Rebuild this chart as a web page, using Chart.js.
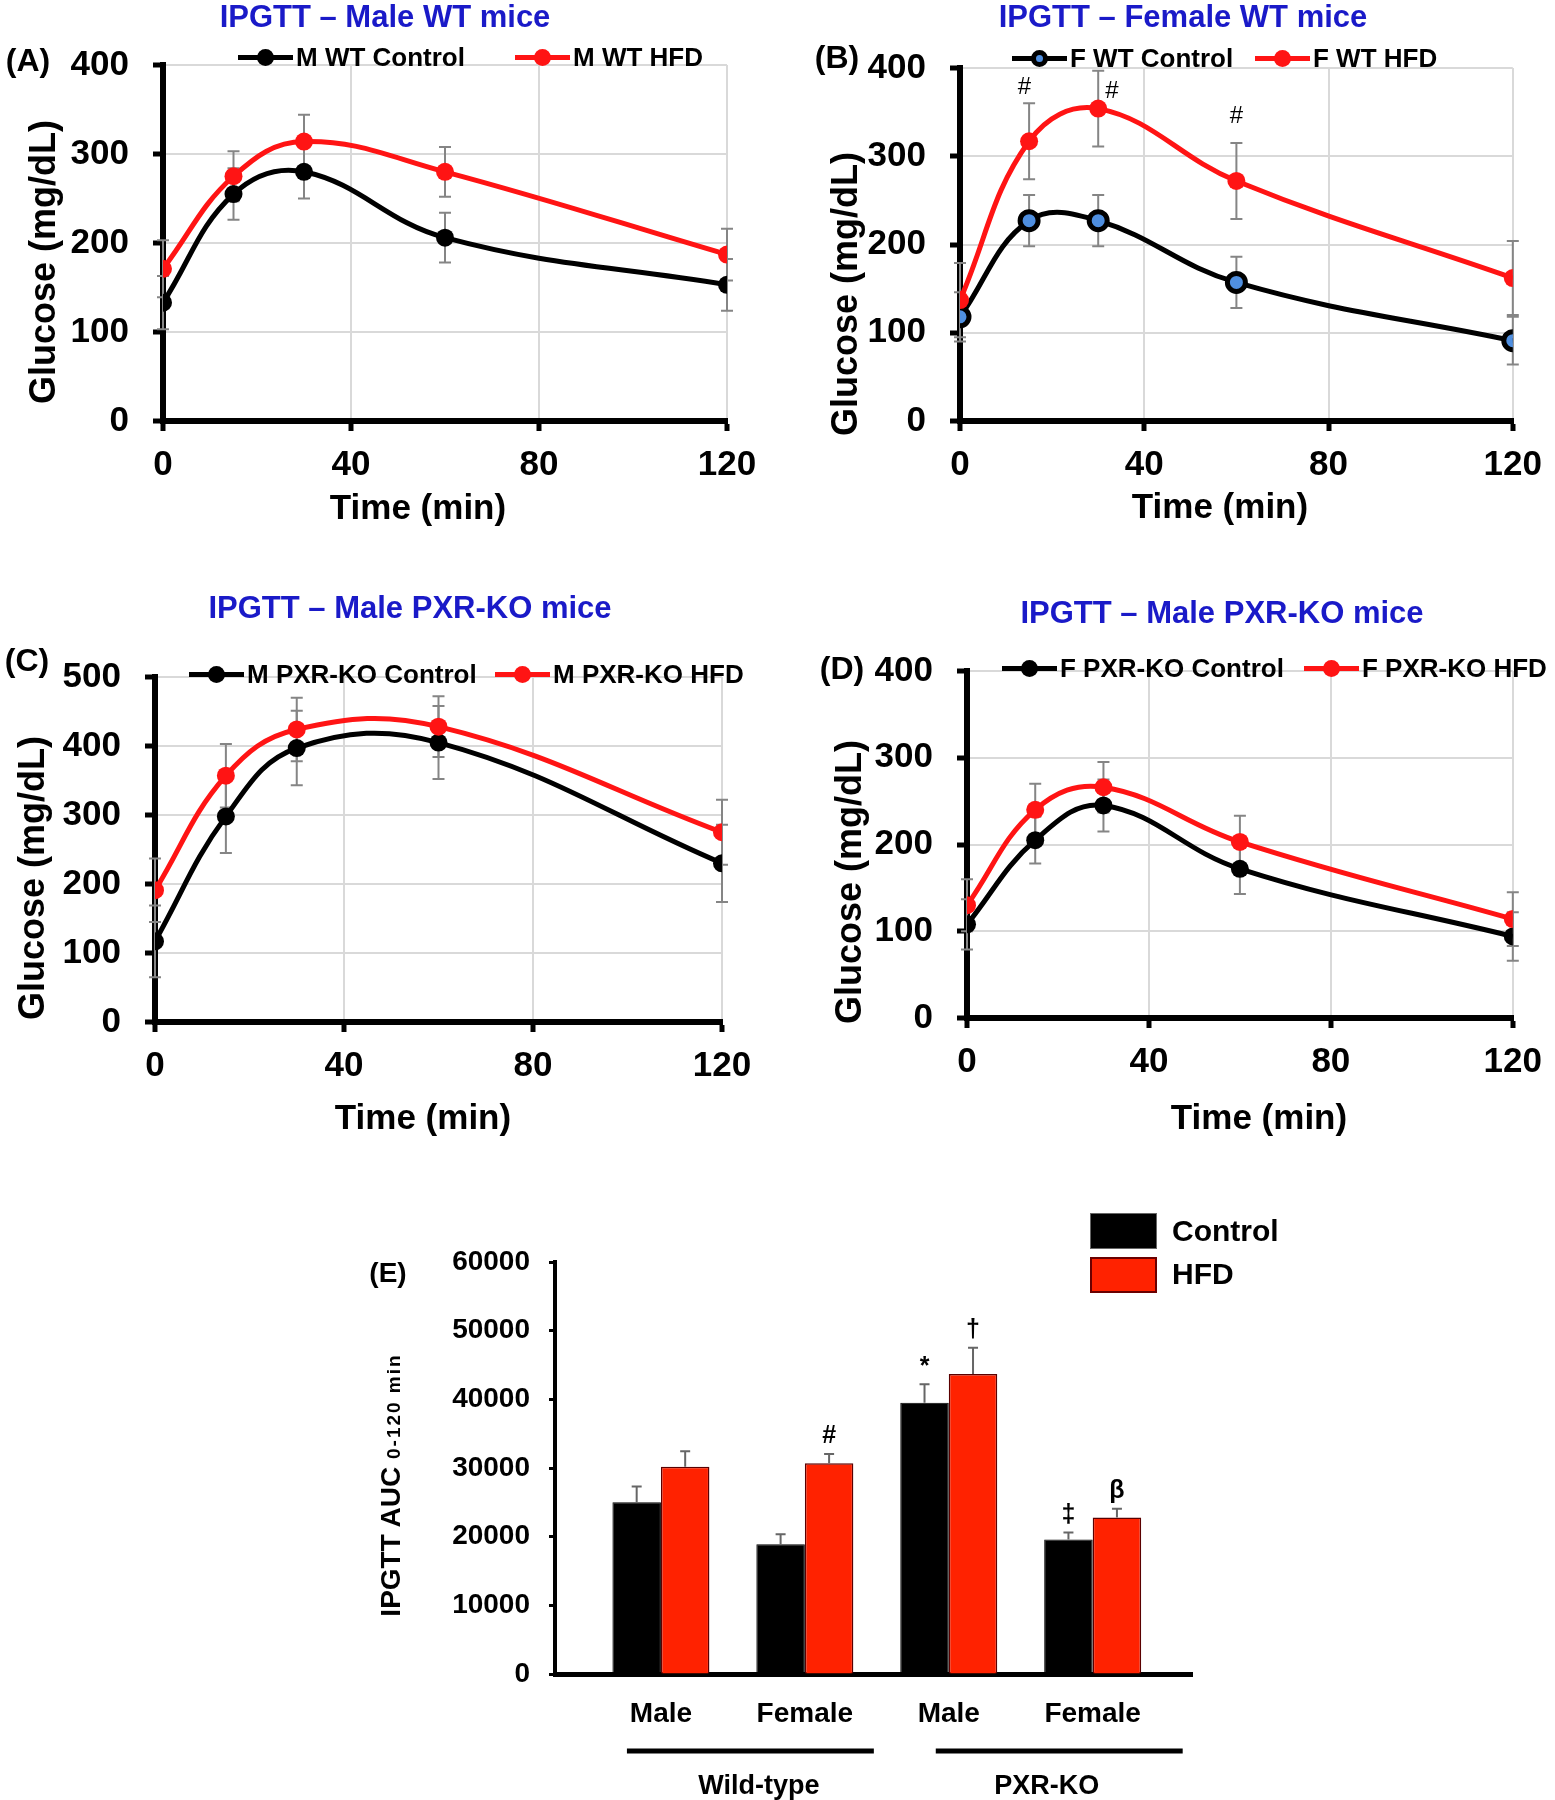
<!DOCTYPE html>
<html>
<head>
<meta charset="utf-8">
<script src="https://cdn.jsdelivr.net/npm/chart.js@4.4.1/dist/chart.umd.min.js"></script>
<style>
  body { margin: 0; background: #fff; }
  #page { position: relative; width: 1555px; height: 1800px; overflow: hidden;
          font-family: 'Liberation Sans', Arial, sans-serif; font-weight: bold; color: #000; }
  canvas { position: absolute; }
  .t { position: absolute; white-space: nowrap; line-height: 1; transform: translate(-50%, -50%); }
  .title { color: #1a1ac8; font-size: 31px; }
  .letter { font-size: 32px; }
  .axt { font-size: 35px; }
  .yt { font-size: 36px; transform: translate(-50%, -50%) rotate(-90deg); }
  .leg { position: absolute; display: flex; align-items: center; font-size: 26px; line-height: 1;
         transform: translateY(-50%); white-space: nowrap; }
  .mk { position: relative; width: 55px; height: 18px; margin-right: 3px; }
  .mk i { position: absolute; left: 0; right: 0; top: 6.5px; height: 5px; }
  .mk b { position: absolute; left: 19px; top: 0.5px; width: 17px; height: 17px; border-radius: 50%; box-sizing: border-box; }
  .box { position: absolute; width: 67px; height: 36px; box-sizing: border-box; }
</style>
</head>
<body>
<div id="page">
  <canvas id="chartA" width="780" height="540" style="left:0;top:0"></canvas>
  <canvas id="chartB" width="775" height="540" style="left:780px;top:0"></canvas>
  <canvas id="chartC" width="780" height="580" style="left:0;top:560px"></canvas>
  <canvas id="chartD" width="775" height="580" style="left:780px;top:560px"></canvas>
  <canvas id="chartE" width="1000" height="620" style="left:300px;top:1180px"></canvas>

  <div class="t title" style="left:385px;top:16px">IPGTT – Male WT mice</div>
  <div class="t title" style="left:1183px;top:16px">IPGTT – Female WT mice</div>
  <div class="t title" style="left:410px;top:607px">IPGTT – Male PXR-KO mice</div>
  <div class="t title" style="left:1222px;top:612px">IPGTT – Male PXR-KO mice</div>

  <div class="t letter" style="left:28px;top:60px">(A)</div>
  <div class="t letter" style="left:837px;top:57px">(B)</div>
  <div class="t letter" style="left:27px;top:660px">(C)</div>
  <div class="t letter" style="left:842px;top:668px">(D)</div>
  <div class="t" style="left:388px;top:1273px;font-size:28px">(E)</div>

  <div class="t yt" style="left:43px;top:262px">Glucose (mg/dL)</div>
  <div class="t yt" style="left:845px;top:294px">Glucose (mg/dL)</div>
  <div class="t yt" style="left:32px;top:878px">Glucose (mg/dL)</div>
  <div class="t yt" style="left:849px;top:882px">Glucose (mg/dL)</div>

  <div class="t axt" style="left:418px;top:506px">Time (min)</div>
  <div class="t axt" style="left:1220px;top:505px">Time (min)</div>
  <div class="t axt" style="left:423px;top:1116px">Time (min)</div>
  <div class="t axt" style="left:1259px;top:1116px">Time (min)</div>

  <div class="t" style="left:391px;top:1485px;font-size:28px;transform:translate(-50%,-50%) rotate(-90deg)">IPGTT AUC <span style="font-size:19px;letter-spacing:2px">0-120 min</span></div>

  <div class="box" style="left:1090px;top:1213px;background:#000;border:1px solid #666"></div>
  <div class="box" style="left:1090px;top:1257px;background:#ff2200;border:2px solid #6b0000"></div>
  <div class="t" style="left:1172px;top:1231px;font-size:30px;transform:translateY(-50%)">Control</div>
  <div class="t" style="left:1172px;top:1274px;font-size:30px;transform:translateY(-50%)">HFD</div>
</div>

<script>
// === DATA ===

const times = [0, 15, 30, 60, 120];

// (A) male wild-type
const mwtControl = [133, 255, 280, 206, 153];
const mwtControlSd = [30, 29, 30, 28, 29];
const mwtHfd = [171, 275, 314, 280, 187];
const mwtHfdSd = [32, 28, 30, 28, 29];

// (B) female wild-type
const fwtControl = [118, 227, 227, 157, 91];
const fwtControlSd = [28, 29, 29, 29, 27];
const fwtHfd = [137, 317, 354, 272, 162];
const fwtHfdSd = [42, 43, 43, 43, 42];
const fwtHashT = [14, 33, 60];
const fwtHashY = [378, 374, 345];

// (C) male PXR-KO
const mkoControl = [117, 298, 397, 405, 230];
const mkoControlSd = [52, 53, 54, 53, 56];
const mkoHfd = [191, 357, 424, 428, 275];
const mkoHfdSd = [46, 46, 46, 44, 47];

// (D) female PXR-KO
const fkoControl = [108, 205, 245, 172, 94];
const fkoControlSd = [29, 27, 30, 29, 28];
const fkoHfd = [130, 240, 266, 203, 114];
const fkoHfdSd = [30, 30, 29, 30, 31];

// (E) area under the curve
const aucGroups = ['Male', 'Female', 'Male', 'Female'];
const genotypes = ['Wild-type', 'PXR-KO'];
const aucControl = [25000, 18900, 39500, 19600];
const aucControlErr = [2300, 1450, 2700, 1000];
const aucHfd = [30200, 30700, 43700, 22800];
const aucHfdErr = [2250, 1350, 3800, 1250];
const aucControlMarks = ['', '', '*', '‡'];
const aucHfdMarks = ['', '#', '†', 'β'];

// === DEFAULTS ===

const FONT = "'Liberation Sans', Arial, sans-serif";
Chart.defaults.font.family = FONT;
Chart.defaults.font.weight = 'bold';
Chart.defaults.color = '#000';

const RED = '#ff1414';

// === ERROR BARS ===

function drawErrors(chart, opts) {
  const ctx = chart.ctx;
  const yScale = chart.scales.y;
  ctx.save();
  ctx.strokeStyle = opts.color;
  ctx.lineWidth = opts.width;
  chart.data.datasets.forEach((ds, di) => {
    chart.getDatasetMeta(di).data.forEach((el, i) => {
      const v = ds.data[i].y;
      const top = yScale.getPixelForValue(v + ds.err[i]);
      const bottom = opts.upOnly ? el.y : yScale.getPixelForValue(v - ds.err[i]);
      ctx.beginPath();
      ctx.moveTo(el.x, bottom);
      ctx.lineTo(el.x, top);
      ctx.moveTo(el.x - opts.cap, top);
      ctx.lineTo(el.x + opts.cap, top);
      if (!opts.upOnly) {
        ctx.moveTo(el.x - opts.cap, bottom);
        ctx.lineTo(el.x + opts.cap, bottom);
      }
      ctx.stroke();
    });
  });
  ctx.restore();
}

const errorBars = {
  id: 'errorBars',
  beforeDatasetsDraw(chart, args, opts) { if (!opts.onTop) drawErrors(chart, opts); },
  afterDatasetsDraw(chart, args, opts) { if (opts.onTop) drawErrors(chart, opts); }
};

// === GLUCOSE PANELS ===

function axisStyle(extra) {
  return Object.assign({
    grid: { color: '#d9d9d9', lineWidth: 2, tickColor: '#000', tickWidth: 5, tickLength: 10 },
    border: { color: '#000', width: 6 }
  }, extra);
}

function glucoseChart(id, cfg) {
  const legend = document.createElement('div');
  cfg.series.forEach((s, i) => {
    const item = document.createElement('div');
    item.className = 'leg';
    item.style.left = cfg.legend[i][0] + 'px';
    item.style.top = cfg.legend[i][1] + 'px';
    const ring = s.fill ? `background:${s.fill};border:5px solid ${s.color}` : `background:${s.color}`;
    item.innerHTML = `<span class="mk"><i style="background:${s.color}"></i><b style="${ring}"></b></span>${s.label}`;
    legend.appendChild(item);
  });
  document.getElementById('page').appendChild(legend);

  return new Chart(document.getElementById(id), {
    type: 'line',
    data: {
      datasets: cfg.series.map((s, si) => ({
        label: s.label,
        data: times.map((t, i) => ({ x: t, y: s.values[i] })),
        err: s.sd,
        borderColor: s.color,
        backgroundColor: s.color,
        pointBackgroundColor: s.fill || s.color,
        pointBorderColor: s.color,
        pointBorderWidth: s.fill ? 5 : 0,
        pointRadius: 9,
        borderWidth: 5,
        tension: 0.4,
        order: si === 0 ? 1 : 0
      }))
    },
    options: {
      responsive: false,
      animation: false,
      layout: { padding: Object.assign({ left: 0, bottom: 0 }, cfg.pad) },
      plugins: {
        legend: { display: false },
        tooltip: { enabled: false },
        errorBars: { color: '#858585', width: 2, cap: 6, upOnly: false, onTop: false }
      },
      scales: {
        x: axisStyle({
          type: 'linear', min: 0, max: 120,
          afterFit: s => { s.height = cfg.xh; },
          ticks: { stepSize: 40, padding: 13, font: { size: 35, weight: 'bold' }, color: '#000' }
        }),
        y: axisStyle({
          min: 0, max: cfg.yMax,
          afterFit: s => { s.width = cfg.yw; },
          ticks: { stepSize: 100, padding: 24, font: { size: 35, weight: 'bold' }, color: '#000' }
        })
      }
    },
    plugins: [errorBars].concat(cfg.plugins || [])
  });
}

glucoseChart('chartA', {
  yMax: 400, pad: { top: 65, right: 53 }, yw: 163, xh: 119,
  series: [
    { label: 'M WT Control', values: mwtControl, sd: mwtControlSd, color: '#000' },
    { label: 'M WT HFD', values: mwtHfd, sd: mwtHfdSd, color: RED }
  ],
  legend: [[238, 57], [515, 57]]
});

// "#" marks over the female WT HFD curve
const hashMarks = {
  id: 'hashMarks',
  afterDatasetsDraw(chart) {
    const ctx = chart.ctx;
    const { x, y } = chart.scales;
    ctx.save();
    ctx.font = `normal 24px ${FONT}`;
    ctx.fillStyle = '#000';
    ctx.textAlign = 'center';
    ctx.textBaseline = 'middle';
    fwtHashT.forEach((t, i) => ctx.fillText('#', x.getPixelForValue(t), y.getPixelForValue(fwtHashY[i])));
    ctx.restore();
  }
};

glucoseChart('chartB', {
  yMax: 400, pad: { top: 68, right: 34 }, yw: 180, xh: 119,
  series: [
    { label: 'F WT Control', values: fwtControl, sd: fwtControlSd, color: '#000', fill: '#4f8fe0' },
    { label: 'F WT HFD', values: fwtHfd, sd: fwtHfdSd, color: RED }
  ],
  legend: [[1012, 58], [1255, 58]],
  plugins: [hashMarks]
});

glucoseChart('chartC', {
  yMax: 500, pad: { top: 117, right: 58 }, yw: 155, xh: 118,
  series: [
    { label: 'M PXR-KO Control', values: mkoControl, sd: mkoControlSd, color: '#000' },
    { label: 'M PXR-KO HFD', values: mkoHfd, sd: mkoHfdSd, color: RED }
  ],
  legend: [[189, 674], [495, 674]]
});

glucoseChart('chartD', {
  yMax: 400, pad: { top: 111, right: 34 }, yw: 187, xh: 122,
  series: [
    { label: 'F PXR-KO Control', values: fkoControl, sd: fkoControlSd, color: '#000' },
    { label: 'F PXR-KO HFD', values: fkoHfd, sd: fkoHfdSd, color: RED }
  ],
  legend: [[1002, 668], [1304, 668]]
});

// === AUC BARS ===

const barMarks = {
  id: 'barMarks',
  afterDatasetsDraw(chart) {
    const ctx = chart.ctx;
    const y = chart.scales.y;
    ctx.save();
    ctx.font = `bold 25px ${FONT}`;
    ctx.fillStyle = '#000';
    ctx.textAlign = 'center';
    ctx.textBaseline = 'bottom';
    chart.data.datasets.forEach((ds, di) => {
      chart.getDatasetMeta(di).data.forEach((el, i) => {
        if (!ds.marks[i]) return;
        ctx.fillText(ds.marks[i], el.x, y.getPixelForValue(ds.data[i].y + ds.err[i]) - 5);
      });
    });
    ctx.restore();
  }
};

// underline + genotype name below each pair of groups
const genotypeLines = {
  id: 'genotypeLines',
  afterDraw(chart) {
    const ctx = chart.ctx;
    const x = chart.scales.x;
    const base = chart.chartArea.bottom;
    const ends = [[-34, 69], [-13, 90]];
    ctx.save();
    ctx.strokeStyle = '#000';
    ctx.lineWidth = 5;
    ctx.fillStyle = '#000';
    ctx.font = `bold 27px ${FONT}`;
    ctx.textAlign = 'center';
    ctx.textBaseline = 'middle';
    genotypes.forEach((g, k) => {
      const a = x.getPixelForValue(2 * k);
      const b = x.getPixelForValue(2 * k + 1);
      ctx.beginPath();
      ctx.moveTo(a + ends[k][0], base + 77);
      ctx.lineTo(b + ends[k][1], base + 77);
      ctx.stroke();
      ctx.fillText(g, (a + b) / 2 + 26, base + 113);
    });
    ctx.restore();
  }
};

new Chart(document.getElementById('chartE'), {
  type: 'bar',
  data: {
    datasets: [
      {
        label: 'Control',
        data: aucGroups.map((g, i) => ({ x: i, y: aucControl[i] })),
        err: aucControlErr,
        marks: aucControlMarks,
        backgroundColor: '#000',
        borderColor: '#000',
        borderWidth: 1,
        categoryPercentage: 0.674,
        barPercentage: 1
      },
      {
        label: 'HFD',
        data: aucGroups.map((g, i) => ({ x: i, y: aucHfd[i] })),
        err: aucHfdErr,
        marks: aucHfdMarks,
        backgroundColor: '#ff2200',
        borderColor: '#5a0000',
        borderWidth: 1.5,
        categoryPercentage: 0.674,
        barPercentage: 1
      }
    ]
  },
  options: {
    responsive: false,
    animation: false,
    layout: { padding: { top: 82, right: 108, left: 0, bottom: 0 } },
    plugins: {
      legend: { display: false },
      tooltip: { enabled: false },
      errorBars: { color: '#666', width: 2, cap: 5, upOnly: true, onTop: true }
    },
    scales: {
      x: {
        type: 'linear', min: -0.736, max: 3.69, offset: false,
        afterFit: s => { s.height = 126; },
        afterBuildTicks: s => { s.ticks = aucGroups.map((g, i) => ({ value: i })); },
        grid: { display: false, drawTicks: false, offset: false },
        border: { color: '#000', width: 5 },
        ticks: { padding: 23, autoSkip: false, maxRotation: 0, font: { size: 28, weight: 'bold' }, color: '#000',
                 callback: v => aucGroups[v] }
      },
      y: {
        min: 0, max: 60000,
        afterFit: s => { s.width = 255; },
        grid: { display: true, drawOnChartArea: false, tickLength: 6, tickColor: '#000', tickWidth: 3 },
        border: { color: '#000', width: 4 },
        ticks: { stepSize: 10000, padding: 19, font: { size: 28, weight: 'bold' }, color: '#000',
                 callback: v => String(v) }
      }
    }
  },
  plugins: [errorBars, barMarks, genotypeLines]
});
</script>
</body>
</html>
